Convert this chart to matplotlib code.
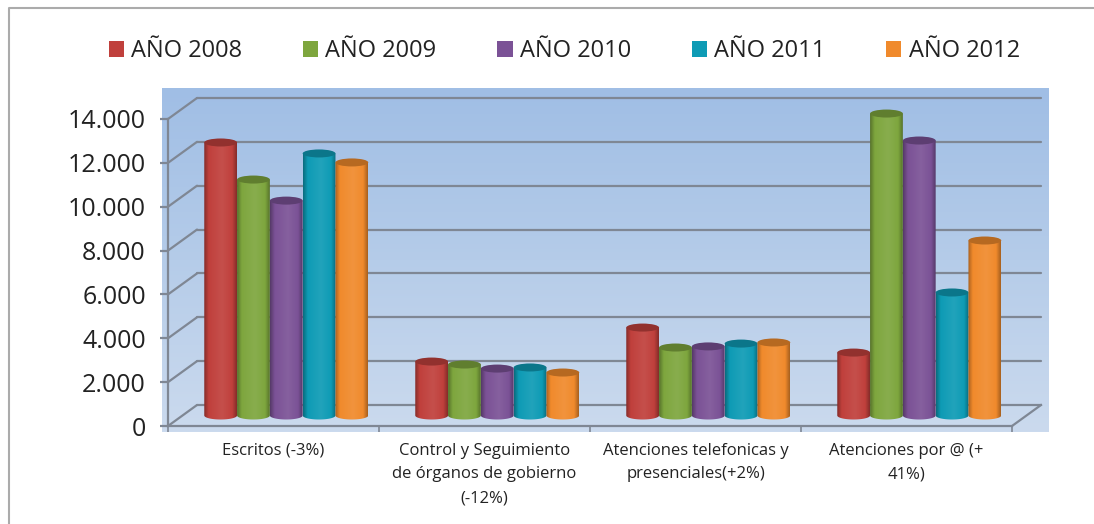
#coding=utf-8
import numpy as np
import matplotlib
matplotlib.use('Agg')
import matplotlib.pyplot as plt
from matplotlib.lines import Line2D
from matplotlib.patches import Ellipse, PathPatch, Patch
from matplotlib.path import Path
from matplotlib.colors import to_rgb, LinearSegmentedColormap
from matplotlib.ticker import FuncFormatter

plt.rcParams['font.family'] = ['Open Sans', 'DejaVu Sans']

categories = ['Escritos (-3%)',
              'Control y Seguimiento\nde órganos de gobierno\n(-12%)',
              'Atenciones telefonicas y\npresenciales(+2%)',
              'Atenciones por @ (+\n41%)']
years = ['AÑO 2008', 'AÑO 2009', 'AÑO 2010', 'AÑO 2011', 'AÑO 2012']
y2008 = [12450, 2460, 4010, 2870]
y2009 = [10760, 2325, 3100, 13770]
y2010 = [9800, 2140, 3150, 12540]
y2011 = [11950, 2190, 3280, 5610]
y2012 = [11540, 1960, 3330, 7980]
series = [y2008, y2009, y2010, y2011, y2012]
colors = ['#C0403C', '#7EA63E', '#7B5296', '#0E9BB5', '#F08A2C']
yticks = [0, 2000, 4000, 6000, 8000, 10000, 12000, 14000]

W, H = 1094, 524
GRID = '#7F8794'
# front wall in pixels
LEFT, RIGHT, BASE, TOP = 168, 1012, 426, 119
px_x = 4 / (RIGHT - LEFT)
px_y = 14000 / (BASE - TOP)
dx = 29 * px_x
dy = 21 * px_y
bar_w = 32.8 * px_x
ell_h = 8 * px_y


def shade(color):
    c = np.array(to_rgb(color))
    dark = c * 0.7
    light = c + (1 - c) * 0.08
    return LinearSegmentedColormap.from_list('s', [(0, dark), (0.14, c), (0.55, light), (0.86, c), (1, dark)])


def cylinder(ax, x, value, color, z):
    # body: flat top, rounded bottom, drawn near the middle of the floor depth
    cx = x + dx * 0.44
    base = dy * 0.5
    top = base + value
    t = np.linspace(np.pi, 2 * np.pi, 40)
    xs = cx + bar_w / 2 * np.cos(t)
    ys = base + ell_h / 2 * np.sin(t)
    verts = [(cx - bar_w / 2, top)] + list(zip(xs, ys)) + [(cx + bar_w / 2, top), (cx - bar_w / 2, top)]
    codes = [Path.MOVETO] + [Path.LINETO] * (len(verts) - 2) + [Path.CLOSEPOLY]
    clip = PathPatch(Path(verts, codes), transform=ax.transData, fc='none', ec='none')
    ax.add_patch(clip)
    im = ax.imshow(np.linspace(0, 1, 64).reshape(1, -1), cmap=shade(color), aspect='auto',
                   extent=(cx - bar_w / 2, cx + bar_w / 2, base - ell_h, top), zorder=z, vmin=0, vmax=1)
    im.set_clip_path(clip)
    im.set_clip_box(ax.figure.bbox)
    cap = Ellipse((cx, top), bar_w, ell_h, fc=np.array(to_rgb(color)) * 0.76, ec='none', zorder=z + 0.1, clip_on=False)
    ax.add_patch(cap)


def main():
    fig = plt.figure(figsize=(W / 100, H / 100), dpi=100, facecolor='white')
    # only the top and left edges of the frame are in the picture
    fig.add_artist(Line2D([1, 9 / W, 9 / W], [1 - 7.5 / H, 1 - 7.5 / H, 0], color='#ABABAB', lw=1.5, zorder=-1))

    # blue backdrop
    bg = fig.add_axes([162 / W, 1 - 432 / H, 887 / W, 344 / H])
    grad = LinearSegmentedColormap.from_list('bg', ['#A0BEE5', '#B5CCE9', '#CBDAEE'])
    bg.imshow(np.linspace(0, 1, 128).reshape(-1, 1), cmap=grad, aspect='auto')
    bg.axis('off')

    ax = fig.add_axes([LEFT / W, 1 - BASE / H, (RIGHT - LEFT) / W, (BASE - TOP) / H])
    ax.patch.set_alpha(0)

    for v in yticks:
        ax.plot([0, dx], [v, v + dy], color=GRID, lw=1.6, clip_on=False, zorder=1, solid_capstyle='round')
        ax.plot([dx, 4 + dx], [v + dy, v + dy], color=GRID, lw=1.6, clip_on=False, zorder=1, solid_capstyle='round')
    ax.plot([4, 4 + dx], [0, dy], color=GRID, lw=1.6, clip_on=False, zorder=1)

    for s, (vals, col) in enumerate(zip(series, colors)):
        for i, v in enumerate(vals):
            x = i + 0.5 + (s - 2) * bar_w
            cylinder(ax, x, v, col, 2 + s)

    ax.set_xlim(0, 4)
    ax.set_ylim(0, 14000)
    for sp in ['top', 'right']:
        ax.spines[sp].set_visible(False)
    for sp in ['left', 'bottom']:
        ax.spines[sp].set_color(GRID)
        ax.spines[sp].set_linewidth(1.6)

    ax.set_yticks(yticks)
    ax.yaxis.set_major_formatter(FuncFormatter(lambda v, p: '{:,.0f}'.format(v).replace(',', '.')))
    ax.tick_params(axis='y', labelsize=18, length=6, width=1.6, color=GRID, pad=10, labelcolor='#222222')
    ax.set_xticks([0, 1, 2, 3, 4])
    ax.set_xticklabels([])
    ax.tick_params(axis='x', which='major', length=4.5, width=1.2, color=GRID, direction='out')
    ax.set_xticks([0.5, 1.5, 2.5, 3.5], minor=True)
    ax.set_xticklabels(categories, minor=True, fontsize=12, color='#222222', linespacing=1.65)
    ax.tick_params(axis='x', which='minor', length=0, pad=12)

    handles = [Patch(fc=c, ec='none', label=y) for c, y in zip(colors, years)]
    fig.legend(handles=handles, ncol=5, frameon=False, fontsize=17, handlelength=0.64, handleheight=0.64,
               handletextpad=0.3, columnspacing=2.58, loc='center left',
               bbox_to_anchor=(109 / W, 1 - 51 / H), labelcolor='#222222', borderpad=0, borderaxespad=0)

    fig.savefig('out.png', dpi=100)


if __name__ == '__main__':
    main()
